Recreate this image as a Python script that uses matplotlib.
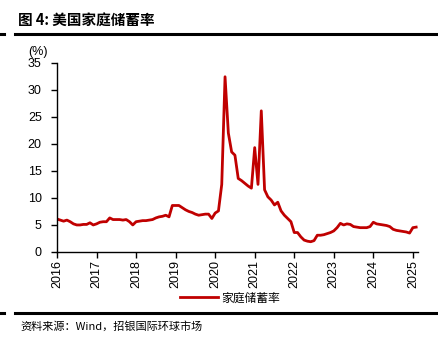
import numpy as np
import matplotlib.pyplot as plt
from matplotlib.lines import Line2D

plt.rcParams['font.family'] = ['Liberation Sans', 'Noto Sans CJK SC', 'DejaVu Sans']

# US personal saving rate (%), monthly, Jan 2016 - Feb 2025
saving_2016 = [6.1, 5.9, 5.7, 5.9, 5.6, 5.2, 5.0, 5.0, 5.1, 5.1, 5.4, 5.0]
saving_2017 = [5.2, 5.5, 5.6, 5.6, 6.3, 6.0, 6.0, 6.0, 5.9, 6.0, 5.6, 5.0]
saving_2018 = [5.6, 5.7, 5.8, 5.8, 5.9, 6.0, 6.3, 6.5, 6.6, 6.8, 6.5, 8.6]
saving_2019 = [8.6, 8.6, 8.2, 7.8, 7.5, 7.3, 7.0, 6.8, 6.9, 7.0, 7.0, 6.2]
saving_2020 = [7.2, 7.6, 12.5, 32.4, 22.0, 18.5, 17.9, 13.6, 13.2, 12.7, 12.2, 11.8]
saving_2021 = [19.3, 12.5, 26.1, 11.5, 10.2, 9.6, 8.7, 9.2, 7.6, 6.8, 6.2, 5.6]
saving_2022 = [3.6, 3.6, 2.8, 2.2, 2.0, 1.9, 2.1, 3.1, 3.1, 3.2, 3.4, 3.6]
saving_2023 = [3.9, 4.5, 5.3, 5.0, 5.2, 5.1, 4.7, 4.6, 4.5, 4.5, 4.5, 4.7]
saving_2024 = [5.5, 5.2, 5.1, 5.0, 4.9, 4.7, 4.2, 4.0, 3.9, 3.8, 3.7, 3.5]
saving_2025 = [4.5, 4.6]

saving = np.array(saving_2016 + saving_2017 + saving_2018 + saving_2019 + saving_2020
                  + saving_2021 + saving_2022 + saving_2023 + saving_2024 + saving_2025)
months = 2016 + np.arange(len(saving)) / 12.0

years = list(range(2016, 2026))
y_ticks = [0, 5, 10, 15, 20, 25, 30, 35]

red = '#C00000'
cjk = ['Noto Sans CJK SC', 'DejaVu Sans']

fig = plt.figure(figsize=(4.38, 3.45), dpi=100)

# title and rules
fig.text(18 / 438, 1 - 20 / 345, '图 4: 美国家庭储蓄率', fontsize=10.5, fontweight='bold',
         va='center', ha='left', family=cjk)
fig.add_artist(Line2D([15 / 438, 1], [1 - 34 / 345] * 2, color='black', lw=2.2))
fig.add_artist(Line2D([0, 4 / 438], [1 - 34 / 345] * 2, color='black', lw=2.2))
fig.add_artist(Line2D([15 / 438, 1], [1 - 313 / 345] * 2, color='black', lw=2.2))
fig.add_artist(Line2D([0, 4 / 438], [1 - 313 / 345] * 2, color='black', lw=2.2))
fig.text(20 / 438, 1 - 326 / 345, '资料来源：Wind，招银国际环球市场', fontsize=8,
         va='center', ha='left', family=cjk)

ax = fig.add_axes([57 / 438, 1 - 252 / 345, 361 / 438, 189.3 / 345])
ax.plot(months, saving, color=red, lw=2, label='家庭储蓄率')

ax.set_xlim(2016, 2025.13)
ax.set_ylim(0, 35)
ax.set_xticks(years)
ax.set_xticklabels([str(y) for y in years], rotation=90, fontsize=9)
ax.set_yticks(y_ticks)
ax.set_yticklabels([str(v) for v in y_ticks], fontsize=9)
ax.tick_params(direction='out', length=4, width=1, colors='black')
ax.tick_params(axis='x', pad=2)
ax.tick_params(axis='y', pad=7)
for side in ['top', 'right']:
    ax.spines[side].set_visible(False)
for side in ['left', 'bottom']:
    ax.spines[side].set_linewidth(1)
    ax.spines[side].set_color('black')

ax.text(-0.08, 1.055, '(%)', transform=ax.transAxes, fontsize=9, ha='left', va='center')

fig.legend(loc='center', bbox_to_anchor=(230 / 438, 1 - 298 / 345), frameon=False,
           handlelength=3.2, handletextpad=0.3,
           prop={'family': cjk, 'size': 8.5})

fig.savefig('out.png', dpi=100)
